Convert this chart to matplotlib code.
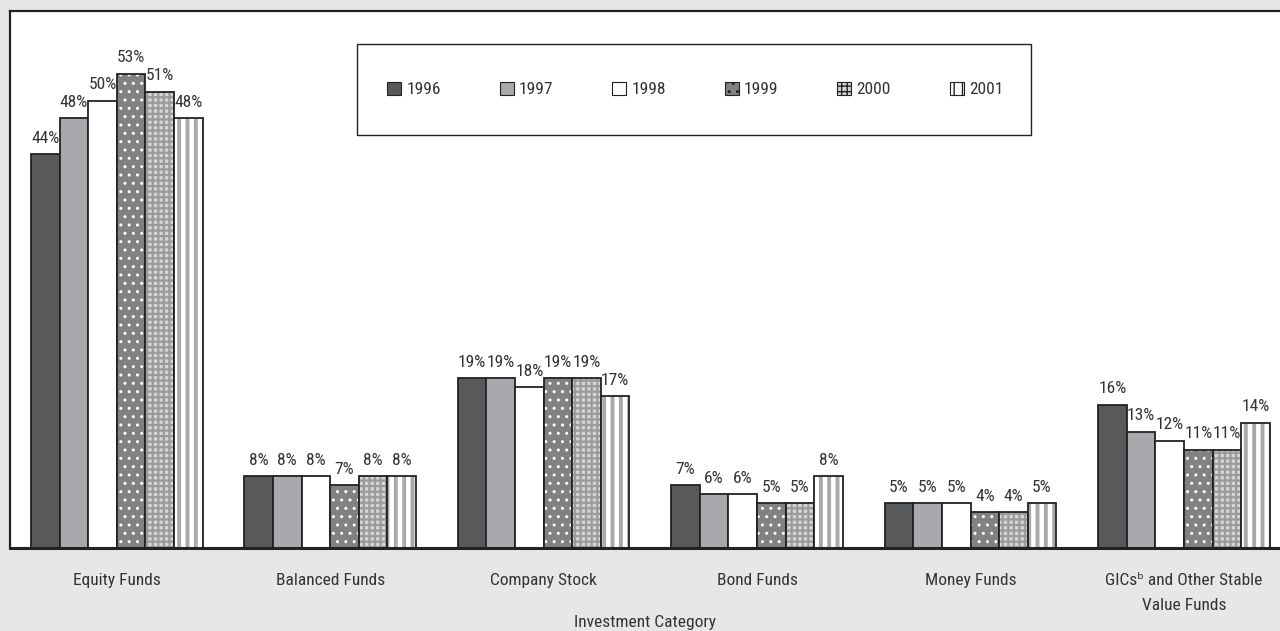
import numpy as np
import matplotlib
matplotlib.use("Agg")
import matplotlib.pyplot as plt
from matplotlib.patches import Rectangle, Patch

plt.rcParams['font.family'] = ['Roboto Condensed', 'DejaVu Sans']
plt.rcParams['font.stretch'] = 'condensed'

# data
categories = ['Equity Funds', 'Balanced Funds', 'Company Stock', 'Bond Funds',
              'Money Funds', 'GICs\u1d47 and Other Stable\nValue Funds']
years = ['1996', '1997', '1998', '1999', '2000', '2001']
pct_1996 = [44, 8, 19, 7, 5, 16]
pct_1997 = [48, 8, 19, 6, 5, 13]
pct_1998 = [50, 8, 18, 6, 5, 12]
pct_1999 = [53, 7, 19, 5, 4, 11]
pct_2000 = [51, 8, 19, 5, 4, 11]
pct_2001 = [48, 8, 17, 8, 5, 14]
series = [pct_1996, pct_1997, pct_1998, pct_1999, pct_2000, pct_2001]

# fill, hatch, hatch colour, hatch width for each year
styles = [
    ('#58595b', '', '#58595b', 1.0),
    ('#a7a9ac', '', '#a7a9ac', 1.0),
    ('white', '', 'white', 1.0),
    ('#808183', '..', 'white', 1.0),
    ('#d4d5d7', '+++', '#9a9b9d', 1.6),
    ('white', '||', '#a7a9ac', 2.8),
]

bg = '#e6e7e8'
txt = '#333333'
fs = 12.5

fig = plt.figure(figsize=(12.8, 6.31), dpi=100, facecolor=bg)
ax = fig.add_axes([10/1280, (631-548)/631, 1270/1280, 537/631])
ax.set_facecolor('white')

x = np.arange(len(categories))
w = 0.134
for i, vals in enumerate(series):
    fc, hatch, hc, hlw = styles[i]
    pos = x + (i - 2.5) * w
    with plt.rc_context({'hatch.linewidth': hlw}):
        bars = ax.bar(pos, vals, w, color=fc, edgecolor=hc, hatch=hatch, linewidth=0)
        for r in bars:
            if hasattr(r, 'set_hatch_linewidth'):
                r.set_hatch_linewidth(hlw)
    ax.bar(pos, vals, w, fill=False, edgecolor='#222222', linewidth=1.3)
    for p, v in zip(pos, vals):
        ax.annotate('%d%%' % v, (p, v), xytext=(0, 6), textcoords='offset points',
                    ha='center', va='bottom', fontsize=fs, color=txt)

ax.set_xlim(-0.5, 5.45)
ax.set_ylim(0, 60)
ax.set_yticks([])
ax.set_xticks(x)
ax.set_xticklabels(categories, fontsize=fs, color=txt, linespacing=1.8)
ax.tick_params(axis='x', length=0, pad=18)
ax.set_xlabel('Investment Category', fontsize=fs, color=txt, labelpad=2)

for s in ['left', 'top']:
    ax.spines[s].set_linewidth(1.6)
    ax.spines[s].set_color('#222222')
ax.spines['bottom'].set_linewidth(2.2)
ax.spines['bottom'].set_color('#222222')
ax.spines['right'].set_visible(False)

# legend box
ax.add_patch(Rectangle((0.273, 0.769), 0.531, 0.1695, transform=ax.transAxes,
                       facecolor='white', edgecolor='#222222', linewidth=1.0, zorder=3))
handles = []
for i, y in enumerate(years):
    fc, hatch, hc, hlw = styles[i]
    with plt.rc_context({'hatch.linewidth': 1.0}):
        handles.append(Patch(facecolor=fc, hatch=hatch, edgecolor='#222222',
                             linewidth=0.8))
leg = ax.legend(handles, years, loc='center left', bbox_to_anchor=(0.297, 0.854, 0.485, 0),
                mode='expand', ncol=6, frameon=False, fontsize=fs, borderpad=0, borderaxespad=0,
                handlelength=0.8, handleheight=0.8, handletextpad=0.3)
for t in leg.get_texts():
    t.set_color(txt)
leg.set_zorder(4)

fig.savefig('out.png', dpi=100, facecolor=bg)
